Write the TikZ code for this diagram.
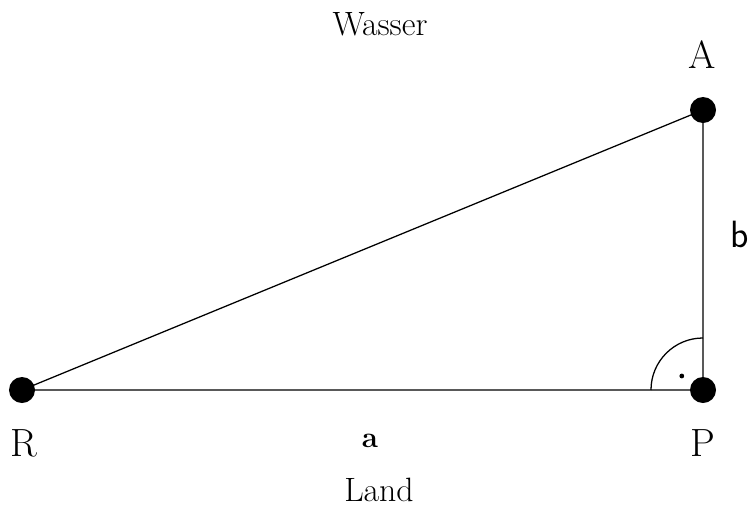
\documentclass[tikz,border=0pt]{standalone}
\usepackage{fontspec}
\usepackage{tikz}
\usetikzlibrary{positioning}

\begin{document}
\begin{tikzpicture}[x=0.025cm, y=-0.025cm,
      punkt/.style={circle, fill=black, inner sep=0pt, minimum size=0.65cm},
      ecke/.style={anchor=base, inner sep=0pt, font=\fontsize{28}{32}\selectfont},
      seite/.style={anchor=base, inner sep=0pt, font=\fontsize{24}{28}\selectfont},
      linie/.style={line width=0.9pt}
  ]
    \useasboundingbox (0,0) rectangle (751,520);
    % Eckpunkte
    \node[punkt] (R) at (22,390)  {};
    \node[punkt] (P) at (703,390) {};
    \node[punkt] (A) at (703,110) {};
    \draw[linie] (R.center) -- (P.center) -- (A.center) -- cycle;
    % rechter Winkel
    \draw[linie] ([xshift=-1.3cm]P.center) arc[start angle=180, end angle=90, radius=1.3cm];
    \fill ([xshift=-0.53cm,yshift=0.35cm]P.center) circle (0.06cm);
    % Beschriftung
    \node[ecke] (lA) at (702,68)  {A};
    \node[ecke] (lR) at (24,456)  {R};
    \node[ecke] (lP) at (703,456) {P};
    \node[seite] (la) at (370,447) {\fontsize{21}{25}\selectfont\textbf{a}};
    \node[seite] (lb) at (740,247) {\fontsize{27}{30}\selectfont\sffamily b};
    \node[seite] (wasser) at (380,35) {Wasser};
    \node[seite] (land)   at (379,501) {Land};
  \end{tikzpicture}
\end{document}
